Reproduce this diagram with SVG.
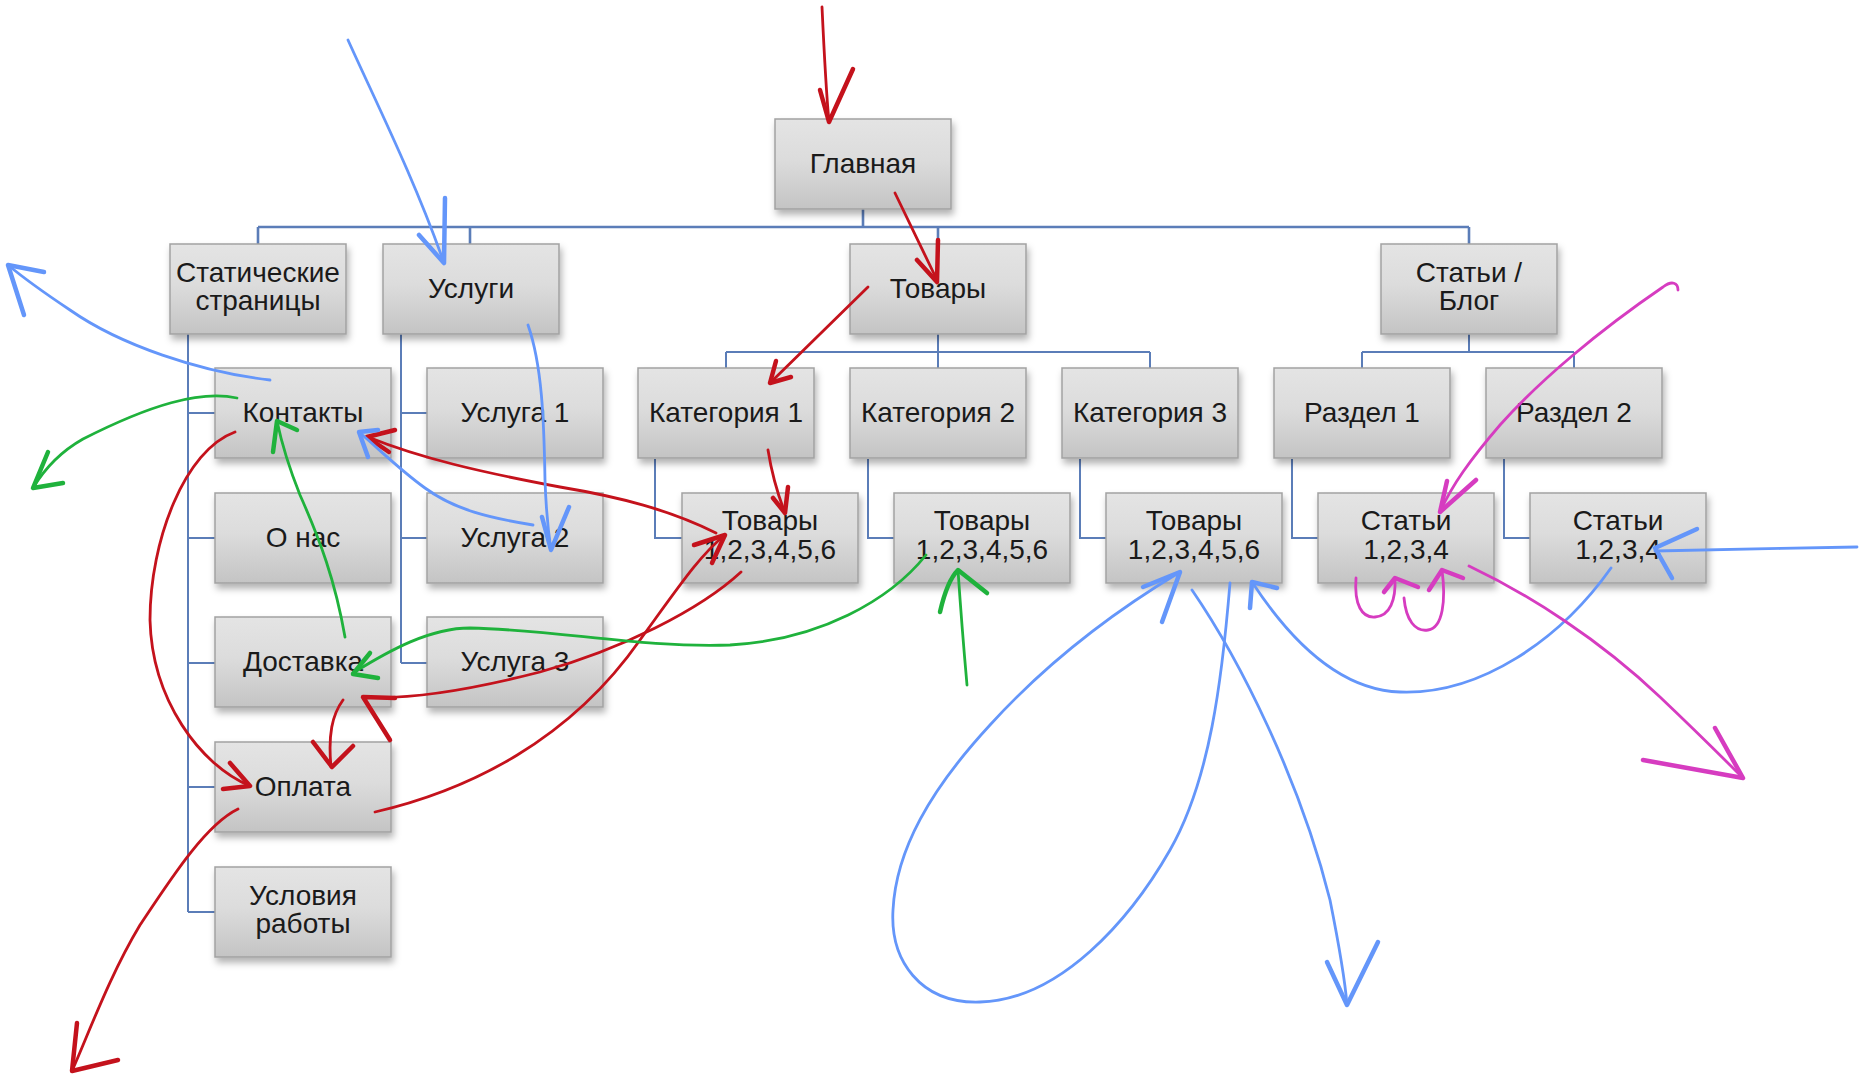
<svg xmlns="http://www.w3.org/2000/svg" width="1863" height="1088" viewBox="0 0 1863 1088">
<defs>
<linearGradient id="bg" x1="0" y1="0" x2="0" y2="1">
<stop offset="0" stop-color="#e4e4e4"/>
<stop offset="0.45" stop-color="#dcdcdc"/>
<stop offset="1" stop-color="#c4c4c4"/>
</linearGradient>
<filter id="sh" x="-10%" y="-10%" width="125%" height="135%">
<feDropShadow dx="2" dy="5" stdDeviation="3.5" flood-color="#000" flood-opacity="0.3"/>
</filter>
<style>
.box rect{fill:url(#bg);stroke:#a2a2a2;stroke-width:1.5;filter:url(#sh)}
.box text{font-family:"Liberation Sans",Arial,sans-serif;font-size:28px;fill:#1a1a1a;text-anchor:middle}
.org path{fill:none;stroke:#5b7db8;stroke-width:2}
.ink path{fill:none;stroke-linecap:round;stroke-linejoin:round}
.ln{stroke-width:2.8}
.hd{stroke-width:4.5}
.r{stroke:#c4121c}
.b{stroke:#6496fa}
.g{stroke:#1fb23c}
.m{stroke:#d63cc0}
</style>
</defs>
<rect width="1863" height="1088" fill="#ffffff"/>

<g id="org-lines" class="org">
<path d="M863,209 V227 M258,227 H1469 M258,227 V244 M470,227 V244 M938,227 V244 M1469,227 V244" style="stroke-width:2.6"/>
<path d="M188,334 V912 M188,413 H215 M188,538 H215 M188,663 H215 M188,787 H215 M188,912 H215"/>
<path d="M401,334 V663 M401,413 H427 M401,538 H427 M401,663 H427"/>
<path d="M938,334 V352 M726,352 H1150 M726,352 V368 M938,352 V368 M1150,352 V368"/>
<path d="M655,459 V538 H682 M868,459 V538 H894 M1080,459 V538 H1106"/>
<path d="M1469,334 V352 M1362,352 H1574 M1362,352 V368 M1574,352 V368"/>
<path d="M1292,459 V538 H1318 M1504,459 V538 H1530"/>
</g>

<g id="n-glavnaya" class="box"><rect x="775" y="119" width="176" height="90"/><text x="863" y="173">Главная</text></g>
<g id="n-static" class="box"><rect x="170" y="244" width="176" height="90"/><text x="258" y="282">Статические</text><text x="258" y="310">страницы</text></g>
<g id="n-uslugi" class="box"><rect x="383" y="244" width="176" height="90"/><text x="471" y="298">Услуги</text></g>
<g id="n-tovary" class="box"><rect x="850" y="244" width="176" height="90"/><text x="938" y="298">Товары</text></g>
<g id="n-blog" class="box"><rect x="1381" y="244" width="176" height="90"/><text x="1469" y="282">Статьи /</text><text x="1469" y="310">Блог</text></g>

<g id="n-kontakty" class="box"><rect x="215" y="368" width="176" height="90"/><text x="303" y="422">Контакты</text></g>
<g id="n-usluga1" class="box"><rect x="427" y="368" width="176" height="90"/><text x="515" y="422">Услуга 1</text></g>
<g id="n-cat1" class="box"><rect x="638" y="368" width="176" height="90"/><text x="726" y="422">Категория 1</text></g>
<g id="n-cat2" class="box"><rect x="850" y="368" width="176" height="90"/><text x="938" y="422">Категория 2</text></g>
<g id="n-cat3" class="box"><rect x="1062" y="368" width="176" height="90"/><text x="1150" y="422">Категория 3</text></g>
<g id="n-razdel1" class="box"><rect x="1274" y="368" width="176" height="90"/><text x="1362" y="422">Раздел 1</text></g>
<g id="n-razdel2" class="box"><rect x="1486" y="368" width="176" height="90"/><text x="1574" y="422">Раздел 2</text></g>

<g id="n-onas" class="box"><rect x="215" y="493" width="176" height="90"/><text x="303" y="547">О нас</text></g>
<g id="n-usluga2" class="box"><rect x="427" y="493" width="176" height="90"/><text x="515" y="547">Услуга 2</text></g>
<g id="n-tov1" class="box"><rect x="682" y="493" width="176" height="90"/><text x="770" y="530">Товары</text><text x="770" y="559">1,2,3,4,5,6</text></g>
<g id="n-tov2" class="box"><rect x="894" y="493" width="176" height="90"/><text x="982" y="530">Товары</text><text x="982" y="559">1,2,3,4,5,6</text></g>
<g id="n-tov3" class="box"><rect x="1106" y="493" width="176" height="90"/><text x="1194" y="530">Товары</text><text x="1194" y="559">1,2,3,4,5,6</text></g>
<g id="n-stat1" class="box"><rect x="1318" y="493" width="176" height="90"/><text x="1406" y="530">Статьи</text><text x="1406" y="559">1,2,3,4</text></g>
<g id="n-stat2" class="box"><rect x="1530" y="493" width="176" height="90"/><text x="1618" y="530">Статьи</text><text x="1618" y="559">1,2,3,4</text></g>

<g id="n-dostavka" class="box"><rect x="215" y="617" width="176" height="90"/><text x="303" y="671">Доставка</text></g>
<g id="n-usluga3" class="box"><rect x="427" y="617" width="176" height="90"/><text x="515" y="671">Услуга 3</text></g>
<g id="n-oplata" class="box"><rect x="215" y="742" width="176" height="90"/><text x="303" y="796">Оплата</text></g>
<g id="n-usloviya" class="box"><rect x="215" y="867" width="176" height="90"/><text x="303" y="905">Условия</text><text x="303" y="933">работы</text></g>

<g id="connectors" class="ink">
<!-- red -->
<path class="r ln" d="M822,7 C824,50 826,90 829,122"/>
<path class="r hd" d="M820,90 L829,122 L853,69"/>
<path class="r ln" d="M895,193 L937,280"/>
<path class="r hd" d="M917,260 L937,282 L938,240"/>
<path class="r ln" d="M868,287 L770,383"/>
<path class="r hd" d="M791,377 L770,383 L776,361"/>
<path class="r ln" d="M768,450 C772,475 778,495 785,513"/>
<path class="r hd" d="M773,498 L785,513 L788,487"/>
<path class="r ln" d="M716,533 C670,510 620,497 560,487 C480,472 420,458 368,437"/>
<path class="r hd" d="M395,430 L367,437 L389,452"/>
<path class="r ln" d="M235,432 C185,450 150,540 150,620 C152,700 200,765 250,786"/>
<path class="r hd" d="M230,763 L250,786 L223,789"/>
<path class="r ln" d="M238,809 C205,825 170,880 140,925 C110,975 90,1030 72,1071"/>
<path class="r hd" d="M77,1023 L72,1071 L118,1060"/>
<path class="r ln" d="M343,700 C332,715 328,735 331,767"/>
<path class="r hd" d="M313,742 L332,767 L353,746"/>
<path class="r ln" d="M375,812 C470,790 570,740 640,640 C680,585 700,555 725,535"/>
<path class="r hd" d="M694,545 L725,535 L712,563"/>
<path class="r ln" d="M741,572 C700,610 620,650 540,672 C470,690 410,700 363,697"/>
<path class="r hd" d="M395,698 L363,697 L390,740"/>
<!-- blue -->
<path class="b ln" d="M348,40 C375,100 415,180 444,263"/>
<path class="b hd" d="M419,235 L444,263 L445,198"/>
<path class="b ln" d="M270,380 C200,372 120,345 70,310 C40,290 20,275 8,265"/>
<path class="b hd" d="M44,272 L8,265 L24,315"/>
<path class="b ln" d="M528,325 C542,365 544,420 545,480 C546,510 548,530 551,550"/>
<path class="b hd" d="M542,517 L551,550 L569,507"/>
<path class="b ln" d="M533,525 C490,518 455,510 425,488 C400,470 380,450 359,432"/>
<path class="b hd" d="M378,430 L359,432 L368,457"/>
<path class="b ln" d="M1230,583 C1222,680 1210,780 1170,850 C1130,920 1060,1000 980,1002 C920,1004 890,960 893,910 C896,850 930,790 990,725 C1040,670 1100,620 1180,572"/>
<path class="b hd" d="M1143,587 L1180,572 L1162,622"/>
<path class="b ln" d="M1192,590 C1240,660 1300,780 1330,900 C1340,950 1345,980 1347,1005"/>
<path class="b hd" d="M1327,962 L1347,1005 L1378,942"/>
<path class="b ln" d="M1611,568 C1560,640 1480,695 1400,692 C1340,690 1290,640 1252,582"/>
<path class="b hd" d="M1250,608 L1252,582 L1277,588"/>
<path class="b ln" d="M1857,547 C1790,548 1720,550 1655,551"/>
<path class="b hd" d="M1697,529 L1655,548 L1672,578"/>
<!-- green -->
<path class="g ln" d="M237,398 C200,390 150,405 83,439 C60,452 45,468 33,488"/>
<path class="g hd" d="M48,452 L33,488 L63,483"/>
<path class="g ln" d="M345,637 C335,580 320,540 300,495 C290,470 282,445 277,421"/>
<path class="g hd" d="M273,452 L277,421 L297,430"/>
<path class="g ln" d="M926,555 C890,600 820,640 730,645 C640,648 560,630 470,628 C430,628 390,650 353,673"/>
<path class="g hd" d="M378,678 L353,674 L370,653"/>
<path class="g ln" d="M967,685 C963,640 960,600 958,570"/>
<path class="g hd" d="M940,612 C945,590 950,578 958,570 L987,593"/>
<!-- magenta -->
<path class="m ln" d="M1678,290 C1678,283 1672,280 1663,287 C1600,330 1540,380 1500,425 C1470,460 1452,485 1440,512"/>
<path class="m hd" d="M1447,481 L1440,512 L1476,480"/>
<path class="m ln" d="M1356,578 C1354,605 1362,618 1375,617 C1390,616 1396,600 1395,578"/>
<path class="m hd" d="M1384,592 L1395,578 L1418,587"/>
<path class="m ln" d="M1404,598 C1406,620 1415,632 1428,630 C1443,628 1446,600 1442,570"/>
<path class="m hd" d="M1429,590 L1442,570 L1463,578"/>
<path class="m ln" d="M1469,566 C1530,595 1600,640 1660,697 C1700,735 1725,760 1743,778"/>
<path class="m hd" d="M1715,728 L1743,778 L1643,760"/>
</g>
</svg>
